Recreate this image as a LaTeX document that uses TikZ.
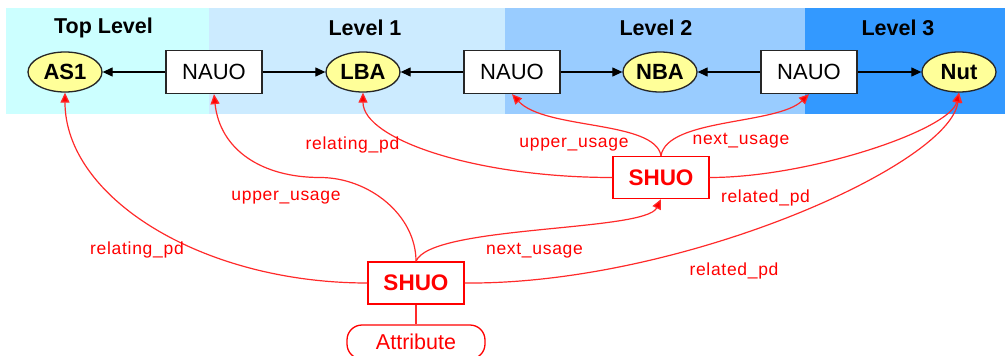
\documentclass[tikz,border=0pt]{standalone}
\usepackage{fontspec}
\setmainfont{Liberation Sans}
\newfontfamily\spacedfont[LetterSpace=4]{Liberation Sans}
\usetikzlibrary{shapes.geometric,arrows.meta}
\definecolor{bandTop}{HTML}{CCFFFF}
\definecolor{bandOne}{HTML}{CCEBFF}
\definecolor{bandTwo}{HTML}{99CCFF}
\definecolor{bandThree}{HTML}{3399FF}
\definecolor{partFill}{HTML}{FFFF99}
\definecolor{relRed}{HTML}{FF0000}
\definecolor{relLine}{HTML}{FF2A2A}
\begin{document}
\begin{tikzpicture}[x=1pt,y=-1pt,
  lvltitle/.style={inner sep=0pt, font=\fontsize{21.5}{24}\selectfont\bfseries},
  partnode/.style={ellipse, draw=black!85, line width=1.3pt, fill=partFill,
    minimum width=74pt, minimum height=40pt, inner sep=0pt,
    font=\fontsize{22}{26}\selectfont\bfseries},
  usagenode/.style={rectangle, draw=black!85, line width=1.3pt, fill=white,
    minimum width=96pt, minimum height=43pt, inner sep=0pt,
    font=\fontsize{22}{26}\selectfont},
  shuonode/.style={rectangle, draw=relRed, line width=1.3pt, fill=white, text=relRed,
    minimum width=96pt, minimum height=42pt, inner sep=0pt,
    font=\fontsize{22.5}{26}\selectfont\bfseries},
  attrnode/.style={rectangle, rounded corners=15pt, draw=relRed, line width=1.3pt, fill=white,
    text=relRed, minimum width=138pt, minimum height=34pt, inner sep=0pt,
    font=\fontsize{21.5}{26}\selectfont},
  blackarrow/.style={draw=black, line width=1.2pt, -{Triangle[length=10pt,width=9pt]}},
  redline/.style={draw=relLine, line width=1.2pt},
  redarrow/.style={redline, -{Triangle[length=10pt,width=9pt,fill=relRed]}},
  rolelabel/.style={inner sep=0pt, text=relRed, font=\spacedfont\fontsize{17.5}{20}\selectfont}
]
\useasboundingbox (0,0) rectangle (1005,356);
% level bands
\fill[bandTop] (6,8) rectangle (209,114);
\fill[bandOne] (209,8) rectangle (505,114);
\fill[bandTwo] (505,8) rectangle (805,114);
\fill[bandThree] (805,8) rectangle (1005,114);
\node[lvltitle] (tTop) at (103.5,28) {Top Level};
\node[lvltitle] (tOne) at (365,28) {Level 1};
\node[lvltitle] (tTwo) at (656,28) {Level 2};
\node[lvltitle] (tThree) at (898,28) {Level 3};
% parts and usages
\node[partnode] (as1) at (65,72) {AS1};
\node[usagenode] (n1) at (214,72) {NAUO};
\node[partnode] (lba) at (363,72) {LBA};
\node[usagenode] (n2) at (512,72) {NAUO};
\node[partnode] (nba) at (660,72) {NBA};
\node[usagenode] (n3) at (809,72) {NAUO};
\node[partnode] (nut) at (959,72) {Nut};
\draw[blackarrow] (n1) -- (as1);
\draw[blackarrow] (n1) -- (lba);
\draw[blackarrow] (n2) -- (lba);
\draw[blackarrow] (n2) -- (nba);
\draw[blackarrow] (n3) -- (nba);
\draw[blackarrow] (n3) -- (nut);
% SHUO nodes
\node[shuonode] (s1) at (416,283) {SHUO};
\node[shuonode] (s2) at (661,177.5) {SHUO};
\node[attrnode] (attr) at (416,342) {Attribute};
\draw[redline] (s1) -- (attr);
\coordinate (uuMid) at (320,177.5);
% relations of the lower SHUO
\draw[redarrow] (s1.west) .. controls (201,283) and (65,197) .. (as1.south);
\draw[redarrow] (s1.north) .. controls (416,215) and (369,177.5) .. (uuMid)
   .. controls (262,177.5) and (220,150) .. (n1.south);
\draw[redarrow] (s1.north) .. controls (430,225) and (645,232) .. (s2.south);
\draw[redarrow] (s1.east) .. controls (680,285) and (950,165) .. (nut.south);
% relations of the upper SHUO
\draw[redarrow] (s2.west) .. controls (475,177.5) and (363,139) .. (lba.south);
\draw[redarrow] (s2.north) .. controls (655,120) and (545,130) .. (n2.south);
\draw[redarrow] (s2.north) .. controls (667,118) and (777,125) .. (n3.south);
\draw[redarrow] (s2.east) .. controls (809,177.5) and (950,130) .. (nut.south);
% labels
\node[rolelabel] (lRel1) at (137,250) {relating\_pd};
\node[rolelabel] (lUp1) at (286,197.5) {upper\_usage};
\node[rolelabel] (lRel2) at (352.5,144.5) {relating\_pd};
\node[rolelabel] (lUp2) at (574,144.5) {upper\_usage};
\node[rolelabel] (lNext2) at (741,140.5) {next\_usage};
\node[rolelabel] (lRd2) at (765.5,197.5) {related\_pd};
\node[rolelabel] (lNext1) at (534.5,250.5) {next\_usage};
\node[rolelabel] (lRd1) at (734,270.5) {related\_pd};
\end{tikzpicture}
\end{document}
